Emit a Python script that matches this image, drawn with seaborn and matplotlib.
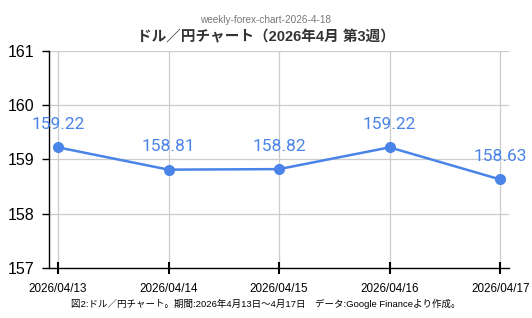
import matplotlib
matplotlib.use("Agg")
import matplotlib.pyplot as plt
import seaborn as sns
import pandas as pd

dates = ["2026/04/13", "2026/04/14", "2026/04/15", "2026/04/16", "2026/04/17"]
rates = [159.22, 158.81, 158.82, 159.22, 158.63]
yticks = [157, 158, 159, 160, 161]

sns.set_theme(style="white")
plt.rcParams['font.family'] = ['Liberation Sans', 'Noto Sans CJK JP', 'DejaVu Sans']

df = pd.DataFrame({"idx": range(len(dates)), "rate": rates})

fig = plt.figure(figsize=(5.32, 3.18), dpi=100)
ax = fig.add_axes([0.093, 0.157, 0.864, 0.684])
blue = "#4a84e8"
sns.lineplot(data=df, x="idx", y="rate", ax=ax, color=blue, linewidth=1.8,
             marker="o", markersize=8, markeredgewidth=0)

for i, v in enumerate(rates):
    ax.annotate(f"{v:.2f}", (i, v), xytext=(0, 11), textcoords="offset points",
                ha="center", va="bottom", color=blue, fontsize=12.5,
                family=['Roboto', 'DejaVu Sans'])

ax.set_ylim(157, 161)
ax.set_yticks(yticks)
ax.set_yticklabels([str(t) for t in yticks], fontsize=11.5)
ax.set_xlim(-0.077, 4.081)
ax.set_xticks(range(len(dates)))
ax.set_xticklabels(dates, fontsize=8.4)
ax.set_xlabel("")
ax.set_ylabel("")

ax.grid(True, color="#cccccc", linewidth=0.9)
ax.set_axisbelow(True)
for s in ["top", "right"]:
    ax.spines[s].set_visible(False)
for s in ["left", "bottom"]:
    ax.spines[s].set_color("black")
    ax.spines[s].set_linewidth(1.0)
ax.tick_params(axis="y", direction="out", length=5, width=1, color="black", pad=6, labelcolor="black")
ax.tick_params(axis="x", direction="inout", length=8, width=1.5, color="black", pad=6.5, labelcolor="black")
ax.tick_params(left=True, bottom=True)

fig.text(0.5, 1 - 20 / 318, "weekly-forex-chart-2026-4-18", ha="center", va="center",
         fontsize=7.2, color="#777777")
fig.text(0.5, 1 - 37 / 318, "ドル／円チャート（2026年4月 第3週）", ha="center", va="center",
         fontsize=10.5, fontweight="bold", color="#333333")
fig.text(0.5, 1 - 304 / 318, "図2:ドル／円チャート。期間:2026年4月13日～4月17日　データ:Google Financeより作成。",
         ha="center", va="center", fontsize=6.8, color="black")

fig.savefig("out.png", dpi=100)
